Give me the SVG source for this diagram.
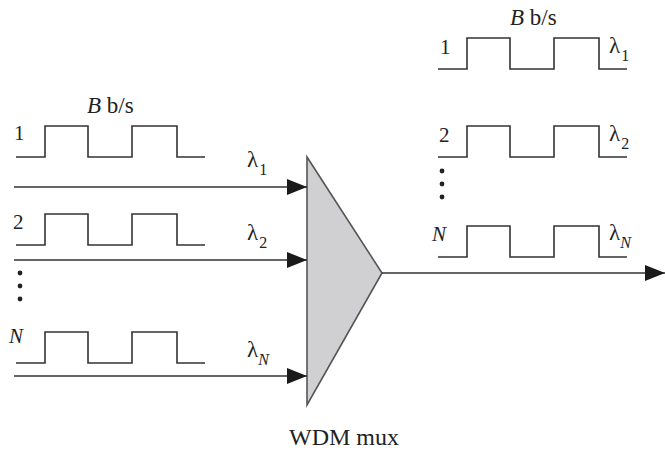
<svg xmlns="http://www.w3.org/2000/svg" width="665" height="450" viewBox="0 0 665 450">
<style>
.sig{fill:none;stroke:#333;stroke-width:1.6}
.ln{fill:none;stroke:#333;stroke-width:1.6}
text{font-family:"Liberation Serif","Times New Roman",serif;font-size:21px;fill:#222}
.it{font-style:italic}
.lam{font-size:23px}
.sub{font-size:16px}
.cap{font-size:24px}
.rate{font-size:23px}
</style>
<defs>
<marker id="ah" viewBox="0 0 20 16" refX="20" refY="8" markerWidth="20" markerHeight="16" markerUnits="userSpaceOnUse" orient="auto">
<path d="M0,0 L20,8 L0,16 Z" fill="#1a1a1a"/>
</marker>
<g id="pulse"><path d="M0,31 H29 V0 H72 V31 H116 V0 H161 V31 H189"/></g>
</defs>
<g id="mux">
<polygon points="307,157 382,273 307,405" fill="#d0d0d3" stroke="#555" stroke-width="1.6"/>
<text class="cap" x="344" y="445" text-anchor="middle">WDM mux</text>
</g>
<g id="in1">
<text class="rate" x="87" y="113"><tspan class="it">B</tspan> b/s</text>
<text x="14" y="140">1</text>
<use href="#pulse" x="16" y="126" class="sig"/>
<text class="lam" x="247" y="167">λ<tspan class="sub" dx="1" dy="8">1</tspan></text>
</g>
<g id="in2">
<text x="13" y="229">2</text>
<use href="#pulse" x="16" y="214" class="sig"/>
<text class="lam" x="247" y="240">λ<tspan class="sub" dx="1" dy="8">2</tspan></text>
</g>
<g id="dotsL" fill="#222">
<circle cx="20" cy="273" r="2.4"/><circle cx="20" cy="286" r="2.4"/><circle cx="20" cy="299" r="2.4"/>
</g>
<g id="inN">
<text class="it" x="9" y="343">N</text>
<use href="#pulse" x="16" y="332" class="sig"/>
<text class="lam" x="247" y="357">λ<tspan class="sub it" dy="8">N</tspan></text>
</g>
<g id="out1">
<text class="rate" x="510" y="25"><tspan class="it">B</tspan> b/s</text>
<text x="440" y="54">1</text>
<use href="#pulse" x="438" y="38" class="sig"/>
<text class="lam" x="609" y="53">λ<tspan class="sub" dx="1" dy="8">1</tspan></text>
</g>
<g id="out2">
<text x="439" y="142">2</text>
<use href="#pulse" x="438" y="126" class="sig"/>
<text class="lam" x="609" y="141">λ<tspan class="sub" dx="1" dy="8">2</tspan></text>
</g>
<g id="dotsR" fill="#222">
<circle cx="442" cy="171" r="2.4"/><circle cx="442" cy="184" r="2.4"/><circle cx="442" cy="197" r="2.4"/>
</g>
<g id="outN">
<text class="it" x="432" y="241">N</text>
<use href="#pulse" x="438" y="226" class="sig"/>
<text class="lam" x="609" y="240">λ<tspan class="sub it" dy="8">N</tspan></text>
</g>
<g id="connectors">
<line class="ln" x1="14" y1="187" x2="307" y2="187" marker-end="url(#ah)"/>
<line class="ln" x1="14" y1="260" x2="307" y2="260" marker-end="url(#ah)"/>
<line class="ln" x1="14" y1="376" x2="307" y2="376" marker-end="url(#ah)"/>
<line class="ln" x1="382" y1="273" x2="665" y2="273" marker-end="url(#ah)"/>
</g>
</svg>
